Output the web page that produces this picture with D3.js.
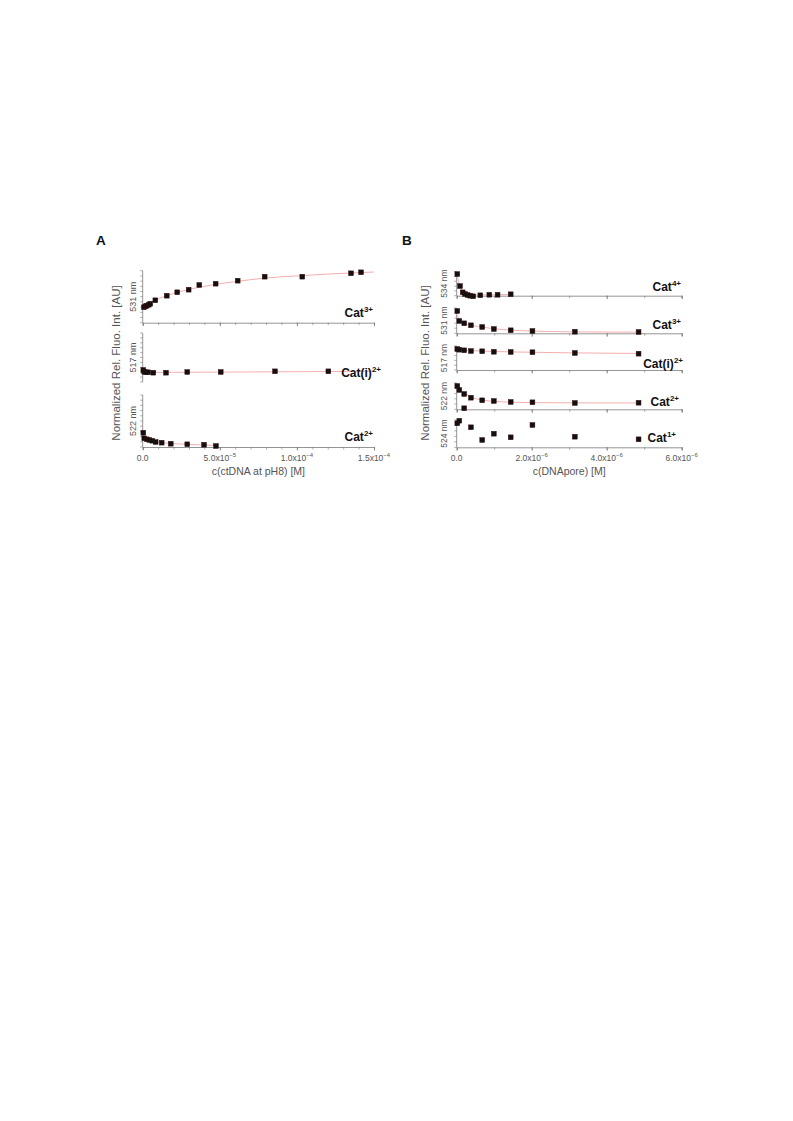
<!DOCTYPE html>
<html><head><meta charset="utf-8">
<script src="https://cdnjs.cloudflare.com/ajax/libs/d3/7.8.5/d3.min.js"></script>
<style>body{margin:0;background:#fff}svg{display:block}text{font-family:"Liberation Sans",Arial,sans-serif}</style>
</head><body><div id="c"></div>
<script>
// ---------- DATA ----------
// Panel A: x in M (ctDNA), y in normalized AU (0-10 per strip)
const A_cat3_x = [8e-7,1.7e-6,2.6e-6,3.9e-6,4.9e-6,8.2e-6,1.56e-5,2.24e-5,2.98e-5,3.67e-5,4.73e-5,6.16e-5,7.91e-5,1.035e-4,1.351e-4,1.416e-4];
const A_cat3_y = [2.96,3.15,3.27,3.46,3.65,4.31,5.19,5.85,6.35,7.25,7.5,8.08,8.85,8.85,9.5,9.69];
const A_cat3_fitX = [0,2e-6,5e-6,1e-5,2e-5,3e-5,4e-5,5e-5,6e-5,8e-5,1e-4,1.2e-4,1.5e-4];
const A_cat3_fitY = [2.8,3.3,3.9,4.6,5.6,6.4,7.0,7.5,7.9,8.6,9.0,9.35,9.75];

const A_cati2_x = [4e-7,1.0e-6,2.1e-6,3.6e-6,6.9e-6,1.51e-5,2.89e-5,5.06e-5,8.58e-5,1.204e-4];
const A_cati2_y = [2.45,2.1,1.98,1.98,1.9,1.9,2.04,2.04,2.18,2.18];
const A_cati2_fitX = [0,2e-5,5e-5,1e-4,1.5e-4];
const A_cati2_fitY = [1.95,1.97,2.02,2.1,2.2];

const A_cat2_x = [4e-7,1.0e-6,2.6e-6,4.3e-6,6.2e-6,8.4e-6,1.23e-5,1.82e-5,2.89e-5,3.98e-5,4.75e-5];
const A_cat2_y = [2.75,1.67,1.48,1.35,1.21,0.96,0.83,0.63,0.52,0.44,0.19];
const A_cat2_fitX = [0,1e-6,2e-6,5e-6,1e-5,2e-5,3e-5,4e-5,4.8e-5];
const A_cat2_fitY = [2.5,2.0,1.7,1.25,0.95,0.65,0.5,0.38,0.3];

// Panel B: x in M (DNApore)
const B_cat4_x = [1.6e-8,8.8e-8,1.6e-7,2.2e-7,2.9e-7,3.6e-7,4.4e-7,6.3e-7,8.7e-7,1.09e-6,1.44e-6];
const B_cat4_y = [9.0,4.0,1.4,0.7,0.3,0.0,-0.25,0.17,0.4,0.4,0.6];
const B_cat4_fitX = [0,5e-8,1e-7,1.5e-7,2e-7,3e-7,5e-7,1e-6,1.45e-6];
const B_cat4_fitY = [9.0,6.0,3.8,2.2,1.3,0.5,0.3,0.4,0.5];

const B_conc_x = [1.6e-8,7e-8,2e-7,3.8e-7,6.8e-7,9.9e-7,1.44e-6,2.02e-6,3.15e-6,4.85e-6];

const B_cat3_y = [8.8,4.86,3.95,3.16,2.49,1.7,1.19,0.91,0.63,0.51];
const B_cat3_fitX = [0,1e-7,2e-7,4e-7,7e-7,1e-6,1.5e-6,2e-6,3e-6,4.85e-6];
const B_cat3_fitY = [7.5,5.0,4.0,3.1,2.4,1.8,1.2,0.9,0.6,0.45];

const B_cati2_y = [8.75,8.46,8.2,7.9,7.8,7.6,7.5,7.4,7.1,6.8];
const B_cati2_fitX = [0,2e-7,5e-7,1e-6,2e-6,3e-6,4.85e-6];
const B_cati2_fitY = [8.7,8.3,8.0,7.7,7.4,7.15,6.9];

const B_cat2_y = [8.86,7.34,5.82,4.41,3.42,3.16,2.78,2.66,2.4,2.5];
const B_cat2_fitX = [0,1e-7,2e-7,4e-7,7e-7,1e-6,1.5e-6,2e-6,3e-6,4.85e-6];
const B_cat2_fitY = [9.0,7.6,6.3,4.6,3.5,3.0,2.7,2.55,2.45,2.4];

const B_cat1_y = [8.8,9.74,14.3,7.33,2.67,4.98,3.66,8.17,3.88,2.93];

// Ticks and labels
const A_xTicks = [0,5e-5,1e-4,1.5e-4];
const A_xTickLabels = ["0.0","5.0x10^-5","1.0x10^-4","1.5x10^-4"];
const B_xTicks = [0,2e-6,4e-6,6e-6];
const B_xTickLabels = ["0.0","2.0x10^-6","4.0x10^-6","6.0x10^-6"];
const A_xTitle = "c(ctDNA at pH8) [M]";
const B_xTitle = "c(DNApore) [M]";
const yTitle = "Normalized Rel. Fluo. Int. [AU]";

const A_strips = [
  {name:"Cat", sup:"3+", wl:"531 nm", x:A_cat3_x, y:A_cat3_y, fx:A_cat3_fitX, fy:A_cat3_fitY},
  {name:"Cat(i)", sup:"2+", wl:"517 nm", x:A_cati2_x, y:A_cati2_y, fx:A_cati2_fitX, fy:A_cati2_fitY},
  {name:"Cat", sup:"2+", wl:"522 nm", x:A_cat2_x, y:A_cat2_y, fx:A_cat2_fitX, fy:A_cat2_fitY}
];
const B_strips = [
  {name:"Cat", sup:"4+", wl:"534 nm", x:B_cat4_x, y:B_cat4_y, fx:B_cat4_fitX, fy:B_cat4_fitY},
  {name:"Cat", sup:"3+", wl:"531 nm", x:B_conc_x, y:B_cat3_y, fx:B_cat3_fitX, fy:B_cat3_fitY},
  {name:"Cat(i)", sup:"2+", wl:"517 nm", x:B_conc_x, y:B_cati2_y, fx:B_cati2_fitX, fy:B_cati2_fitY},
  {name:"Cat", sup:"2+", wl:"522 nm", x:B_conc_x, y:B_cat2_y, fx:B_cat2_fitX, fy:B_cat2_fitY},
  {name:"Cat", sup:"1+", wl:"524 nm", x:B_conc_x, y:B_cat1_y, fx:null, fy:null}
];

// ---------- LAYOUT ----------
const W = 793, H = 1121;
const svg = d3.select("#c").append("svg").attr("width", W).attr("height", H);
const axisCol = "#7a7a7a", textCol = "#555";

const panels = [
  {letter:"A", lx:96, ly:245, strips:A_strips, ticks:A_xTicks, labels:A_xTickLabels, title:A_xTitle,
   domain:[0,1.5e-4], range:[142.7,374], minor:1e-5,
   boxes:[[270.7,322.7,true],[333,382,false],[395,447,true]],
   yStep:1, yTitleX:120, wlX:135.5, wlSize:9, nameRight:[373,381,373], nameBase:[316.5,377,440.5]},
  {letter:"B", lx:402, ly:245, strips:B_strips, ticks:B_xTicks, labels:B_xTickLabels, title:B_xTitle,
   domain:[0,6e-6], range:[456.7,681.7], minor:1e-6,
   boxes:[[271.7,295.7,true],[308,333.3,true],[346,370,true],[383,409.3,true],[420,447.3,true]],
   yStep:2, yTitleX:429, wlX:446.5, wlSize:8.5, nameRight:[681,681,683,679,676], nameBase:[291,329,368,405.5,442.3]}
];

function addSupLabel(g, str){
  const parts = str.split("^");
  g.append("tspan").text(parts[0]);
  if (parts[1]) g.append("tspan").attr("dy",-4).attr("font-size","6px").text(parts[1].replace("-","\u2212"));
}

panels.forEach(p => {
  const x = d3.scaleLinear().domain(p.domain).range(p.range);
  svg.append("text").attr("x",p.lx).attr("y",p.ly).attr("font-size","13.5px").attr("font-weight","bold").attr("fill","#111").text(p.letter);

  const nMinor = Math.round((p.domain[1]-p.domain[0])/p.minor);
  const minorTicks = d3.range(nMinor+1).map(i => p.domain[0]+i*p.minor);

  p.strips.forEach((s, i) => {
    const [top, bot, hasX] = p.boxes[i];
    const y = d3.scaleLinear().domain([0,10]).range([bot, top]);
    const g = svg.append("g");
    // y axis line & ticks
    g.append("line").attr("x1",x(0)).attr("x2",x(0)).attr("y1",top).attr("y2",bot).attr("stroke",axisCol).attr("stroke-width",0.8);
    d3.range(0,10.001,p.yStep).forEach(v => {
      g.append("line").attr("x1",x(0)-2.5).attr("x2",x(0)).attr("y1",y(v)).attr("y2",y(v)).attr("stroke",axisCol).attr("stroke-width",0.6);
    });
    // x axis
    if (hasX) {
      const last = (i === p.strips.length-1);
      const xa = d3.axisBottom(x).tickValues(minorTicks).tickSize(2.5).tickFormat("");
      const ag = g.append("g").attr("transform",`translate(0,${bot})`).call(xa);
      ag.select(".domain").attr("stroke",axisCol).attr("stroke-width",0.8);
      ag.selectAll(".tick line").attr("stroke",axisCol).attr("stroke-width",0.6);
      const xb = d3.axisBottom(x).tickValues(p.ticks).tickSize(3.5).tickFormat("");
      const bg = g.append("g").attr("transform",`translate(0,${bot})`).call(xb);
      bg.select(".domain").remove();
      bg.selectAll(".tick line").attr("stroke",axisCol).attr("stroke-width",0.8);
      if (last) {
        p.ticks.forEach((t, k) => {
          const tx = g.append("text").attr("x",x(t)).attr("y",bot+14).attr("text-anchor","middle")
            .attr("font-size","8.5px").attr("fill",textCol);
          addSupLabel(tx, p.labels[k]);
        });
        g.append("text").attr("x",(p.range[0]+p.range[1])/2).attr("y",bot+28).attr("text-anchor","middle")
          .attr("font-size","10.5px").attr("fill",textCol).text(p.title);
      }
    }
    // fit line
    if (s.fx) {
      const line = d3.line().x(d => x(d[0])).y(d => y(d[1])).curve(d3.curveMonotoneX);
      g.append("path").datum(s.fx.map((v,k)=>[v,s.fy[k]])).attr("d",line)
        .attr("fill","none").attr("stroke","#f2a5a5").attr("stroke-width",0.9);
    }
    // points
    g.selectAll("rect.pt").data(s.x.map((v,k)=>[v,s.y[k]])).enter().append("rect")
      .attr("x",d => x(d[0])-2.4).attr("y",d => y(d[1])-2.4).attr("width",4.8).attr("height",4.8)
      .attr("fill","#111").attr("stroke","#3a0a0a").attr("stroke-width",0.5);
    // wavelength label
    const my = (top+bot)/2;
    g.append("text").attr("transform",`translate(${p.wlX},${my}) rotate(-90)`).attr("text-anchor","middle")
      .attr("font-size",p.wlSize+"px").attr("fill",textCol).text(s.wl);
    // strip name
    const nt = g.append("text").attr("x",p.nameRight[i]).attr("y",p.nameBase[i]).attr("text-anchor","end")
      .attr("font-size","12px").attr("font-weight","bold").attr("fill","#111");
    nt.append("tspan").text(s.name);
    nt.append("tspan").attr("dy",-5).attr("font-size","8px").text(s.sup);
  });
  // y title
  svg.append("text").attr("transform",`translate(${p.yTitleX},363) rotate(-90)`).attr("text-anchor","middle")
    .attr("font-size","11.5px").attr("fill",textCol).text(yTitle);
});
</script></body></html>
